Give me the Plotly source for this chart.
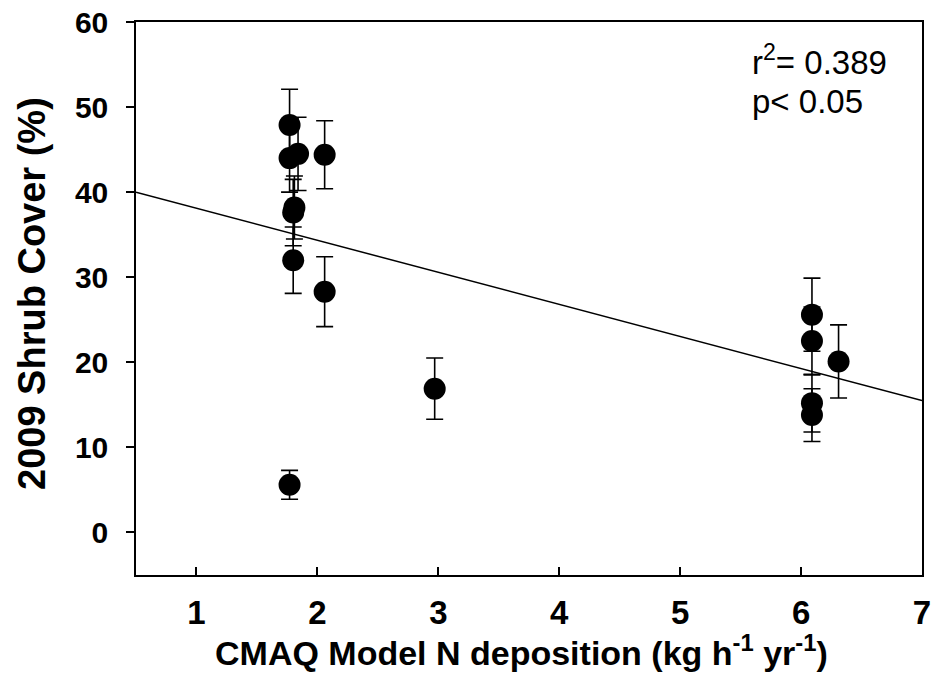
import plotly.graph_objects as go

# Data
n_dep = [1.77, 1.77, 1.84, 2.06, 1.80, 1.81, 1.80, 2.06, 1.77, 2.97, 6.09, 6.09, 6.31, 6.09, 6.09]
shrub_cover = [47.9, 44.0, 44.5, 44.4, 37.6, 38.2, 32.0, 28.3, 5.6, 16.9, 25.6, 22.5, 20.1, 15.2, 13.8]
cover_err = [4.2, 4.0, 4.3, 4.0, 3.9, 3.7, 3.9, 4.1, 1.7, 3.6, 4.3, 4.0, 4.3, 3.4, 3.1]

# Regression line end points
fit_x = [0.5, 7.0]
fit_y = [40.0, 15.5]

x_ticks = [1, 2, 3, 4, 5, 6, 7]
y_ticks = [0, 10, 20, 30, 40, 50, 60]

FONT = "Liberation Sans, Arial, sans-serif"

fig = go.Figure()
fig.add_trace(go.Scatter(
    x=fit_x, y=fit_y, mode="lines",
    line=dict(color="black", width=1.5),
    hoverinfo="skip", showlegend=False,
))
fig.add_trace(go.Scatter(
    x=n_dep, y=shrub_cover, mode="markers",
    marker=dict(color="black", size=22, line=dict(width=0)),
    error_y=dict(type="data", array=cover_err, visible=True,
                 color="black", thickness=1.6, width=8.5),
    showlegend=False,
))

# Statistics text
fig.add_annotation(
    xref="paper", yref="paper", x=0.781, y=0.932,
    xanchor="left", yanchor="middle", align="left", showarrow=False,
    text="r<sup>2</sup>= 0.389",
    font=dict(family=FONT, size=33, color="black"),
)
fig.add_annotation(
    xref="paper", yref="paper", x=0.781, y=0.856,
    xanchor="left", yanchor="middle", align="left", showarrow=False,
    text="p< 0.05",
    font=dict(family=FONT, size=33, color="black"),
)

# Axis titles
fig.add_annotation(
    xref="paper", yref="paper", x=0.49, y=-0.136,
    xanchor="center", yanchor="middle", showarrow=False,
    text="CMAQ Model N deposition (kg h<sup>-1</sup> yr<sup>-1</sup>)",
    font=dict(family=FONT, size=34, color="black", weight="bold"),
)
fig.add_annotation(
    xref="paper", yref="paper", x=-0.133, y=0.509,
    xanchor="center", yanchor="middle", showarrow=False, textangle=-90,
    text="2009 Shrub Cover (%)",
    font=dict(family=FONT, size=38, color="black", weight="bold"),
)

fig.update_layout(
    width=934, height=678,
    margin=dict(l=136, r=12, t=22, b=103, autoexpand=False),
    paper_bgcolor="white", plot_bgcolor="white",
    font=dict(family=FONT, color="black"),
    hovermode=False,
    xaxis=dict(
        range=[0.5, 7.0], tickvals=x_ticks, ticktext=[str(v) for v in x_ticks],
        ticks="inside", ticklen=8, tickwidth=1.5, tickcolor="black",
        showline=True, linecolor="black", linewidth=1.5, mirror=True,
        showgrid=False, zeroline=False, automargin=False,
        tickfont=dict(family=FONT, size=33, weight="bold"),
        ticklabelstandoff=8,
    ),
    yaxis=dict(
        range=[-5, 60], tickvals=y_ticks, ticktext=[str(v) for v in y_ticks],
        ticks="outside", ticklen=8, tickwidth=1.5, tickcolor="black",
        showline=True, linecolor="black", linewidth=1.5, mirror=True,
        showgrid=False, zeroline=False, automargin=False,
        tickfont=dict(family=FONT, size=30, weight="bold"),
        ticklabelstandoff=12,
    ),
)

fig.write_html(
    "out.html",
    config={"displayModeBar": False},
    post_script="document.body.style.margin='0';document.body.style.overflow='hidden';",
)
